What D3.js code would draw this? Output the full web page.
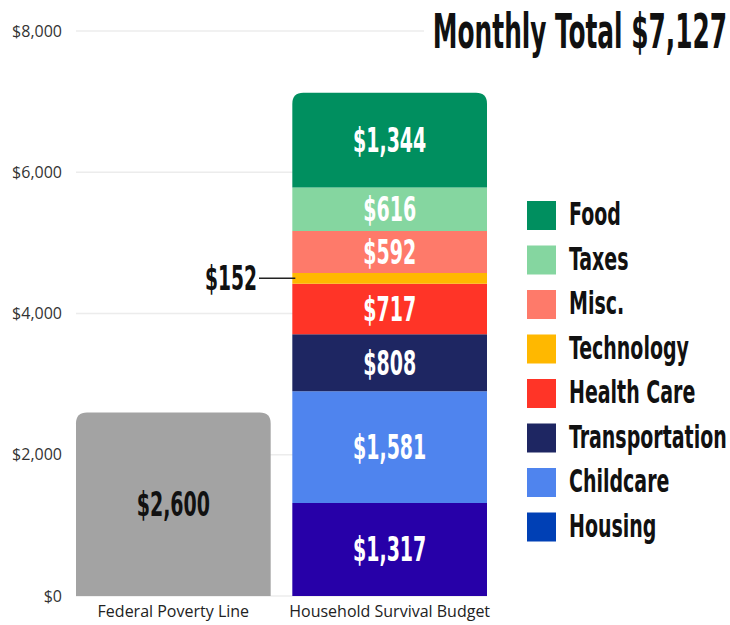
<!DOCTYPE html>
<html>
<head>
<meta charset="utf-8">
<script src="https://cdn.jsdelivr.net/npm/d3@7"></script>
<style>
  body { margin: 0; background: #fff; }
  svg { display: block; }
</style>
</head>
<body>
<div id="chart"></div>
<script>
// values
const bars = ["Federal Poverty Line", "Household Survival Budget"];
const povertyLine = 2600;
const budgetKeys = ["Housing", "Childcare", "Transportation", "Health Care", "Technology", "Misc.", "Taxes", "Food"];
const budgetValues = [1317, 1581, 808, 717, 152, 592, 616, 1344];
const budgetColors = ["#2700a8", "#4f84ee", "#1e2662", "#ff3427", "#ffb800", "#fe7a6a", "#85d6a0", "#008f5f"];
const legendKeys = ["Food", "Taxes", "Misc.", "Technology", "Health Care", "Transportation", "Childcare", "Housing"];
const legendColors = ["#008f5f", "#85d6a0", "#fe7a6a", "#ffb800", "#ff3427", "#1e2662", "#4f84ee", "#0040b5"];
const yTicks = [0, 2000, 4000, 6000, 8000];
const monthlyTotal = 7127;

const width = 730, height = 625;
const condensed = "'DejaVu Sans Condensed', 'DejaVu Sans', sans-serif";

const svg = d3.select("#chart")
  .append("svg")
  .attr("width", width)
  .attr("height", height);

// scales
const y = d3.scaleLinear().domain([0, 8000]).range([596, 31]);
const x = d3.scaleBand().domain(bars).range([76, 487]).paddingInner(0.1).paddingOuter(0);

const fmt = d => "$" + d3.format(",")(d);

// gridlines
svg.append("g")
  .selectAll("line")
  .data(yTicks)
  .join("line")
  .attr("x1", 76)
  .attr("x2", 487)
  .attr("y1", d => y(d))
  .attr("y2", d => y(d))
  .attr("stroke", "#ececec")
  .attr("stroke-width", 1.5);

// y axis
const yAxis = svg.append("g")
  .attr("transform", "translate(62,0)")
  .call(d3.axisLeft(y).tickValues(yTicks).tickSize(0).tickPadding(0).tickFormat(fmt));
yAxis.select(".domain").remove();
yAxis.selectAll("text")
  .style("font-family", "'Open Sans', sans-serif")
  .style("font-size", "16px")
  .attr("fill", "#333");

// x axis labels
const xAxis = svg.append("g")
  .attr("transform", `translate(0, ${y(0)})`)
  .call(d3.axisBottom(x).tickSize(0).tickPadding(10));
xAxis.select(".domain").remove();
xAxis.selectAll("text")
  .style("font-family", "'Open Sans', sans-serif")
  .style("font-size", "16px")
  .attr("fill", "#222");

// path for a bar with rounded top corners
function topRounded(x0, y0, w, h, r) {
  r = Math.min(r, h, w / 2);
  return `M${x0},${y0 + h}V${y0 + r}Q${x0},${y0} ${x0 + r},${y0}H${x0 + w - r}Q${x0 + w},${y0} ${x0 + w},${y0 + r}V${y0 + h}Z`;
}

function condensedText(g, txt, tx, ty, size, fill, anchor, sq) {
  return g.append("text")
    .attr("transform", `translate(${tx},${ty}) scale(${sq},1)`)
    .attr("text-anchor", anchor || "middle")
    .style("font-family", condensed)
    .style("font-weight", "bold")
    .style("font-size", size + "px")
    .attr("fill", fill)
    .text(txt);
}

// poverty line bar
const bx0 = x(bars[0]), bw = x.bandwidth();
svg.append("path")
  .attr("d", topRounded(bx0, y(povertyLine), bw, y(0) - y(povertyLine), 11))
  .attr("fill", "#a3a3a3");
condensedText(svg, fmt(povertyLine), bx0 + bw / 2, (y(0) + y(povertyLine)) / 2 + 12, 33, "#111", "middle", 0.64);

// stacked survival budget bar
const row = {};
budgetKeys.forEach((k, i) => row[k] = budgetValues[i]);
const series = d3.stack().keys(budgetKeys)([row]);
const bx1 = x(bars[1]);
const color = d3.scaleOrdinal().domain(budgetKeys).range(budgetColors);

const seg = svg.append("g");
series.forEach((s, i) => {
  const d = s[0];
  const top = y(d[1]), bot = y(d[0]);
  seg.append("path")
    .attr("d", topRounded(bx1, top, bw, bot - top, i === series.length - 1 ? 11 : 0))
    .attr("fill", color(s.key));
  const v = d[1] - d[0];
  if (s.key === "Technology") {
    const cy = (top + bot) / 2;
    seg.append("line")
      .attr("x1", 259).attr("x2", bx1 + 3)
      .attr("y1", cy).attr("y2", cy)
      .attr("stroke", "#222").attr("stroke-width", 1.3);
    condensedText(seg, fmt(v), 257, cy + 12, 34, "#111", "end", 0.61);
  } else {
    condensedText(seg, fmt(v), bx1 + bw / 2, (top + bot) / 2 + 12, 33, "#fff", "middle", 0.64);
  }
});

// title
svg.append("rect")
  .attr("x", 424).attr("y", 8).attr("width", 306).attr("height", 46)
  .attr("fill", "#fff");
condensedText(svg, "Monthly Total " + fmt(monthlyTotal), 727, 48, 48, "#111", "end", 0.575);

// legend
const legend = svg.append("g");
legendKeys.forEach((k, i) => {
  const ly = 201 + i * 44.5;
  legend.append("rect")
    .attr("x", 527).attr("y", ly)
    .attr("width", 29).attr("height", 29)
    .attr("fill", legendColors[i]);
  condensedText(legend, k, 569, ly + 24, 32, "#111", "start", 0.66);
});
</script>
</body>
</html>
